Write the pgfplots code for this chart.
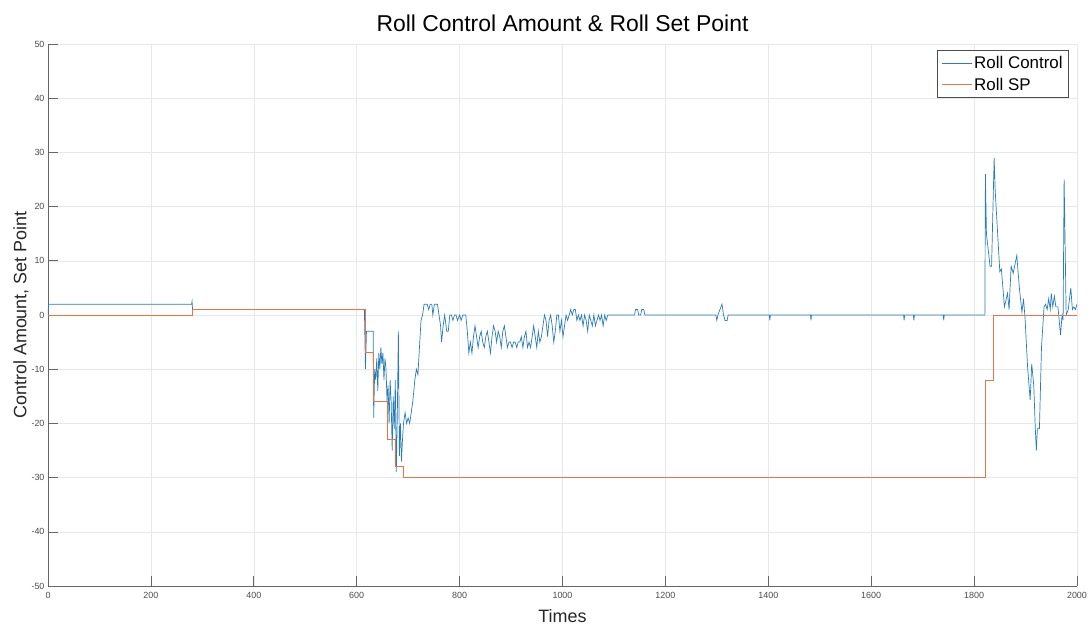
\documentclass[border=0pt]{standalone}
\usepackage{pgfplots}
\pgfplotsset{compat=1.18}
\usepackage{fontspec}
\setmainfont{Liberation Sans}
\definecolor{mblue}{RGB}{40,125,185}
\definecolor{morange}{RGB}{232,115,70}
\begin{document}
\begin{tikzpicture}
\path[use as bounding box] (-48bp,-39bp) rectangle (1040bp,586bp);
\begin{axis}[
  at={(0,0)}, anchor=south west,
  scale only axis, width=1029bp, height=542bp,
  xmin=0, xmax=2000, ymin=-50, ymax=50,
  xtick={0,200,...,2000}, ytick={-50,-40,...,50},
  axis x line*=bottom, axis y line*=left,
  axis line style={draw=black!60, line width=0.6pt},
  tick align=inside, major tick length=10bp,
  tick style={draw=black!60, line width=0.6pt},
  grid=major, major grid style={draw=black!9, line width=0.5pt},
  ticklabel style={font=\fontsize{9}{10}\selectfont, text=black!70},
  xticklabel style={yshift=-3bp},
  /pgf/number format/assume math mode=true,
  /pgf/number format/1000 sep={},
  xlabel={Times}, ylabel={Control Amount, Set Point},
  label style={font=\fontsize{18}{20}\selectfont, text=black!85},
  xlabel style={yshift=-4bp}, ylabel style={yshift=-4bp},
  title={Roll Control Amount \& Roll Set Point},
  title style={font=\fontsize{23}{26}\selectfont, yshift=3bp},
  legend style={at={(1,1)}, anchor=north east, xshift=-8bp, yshift=-6bp,
    draw=black!70, line width=0.6pt, font=\fontsize{17}{19}\selectfont,
    row sep=4pt, inner xsep=4pt, inner ysep=4pt},
  legend cell align=left,
  legend image code/.code={\draw[#1, line width=0.8pt] (0bp,0bp) -- (30bp,0bp);},
]
\addplot[mblue, line width=0.7pt] coordinates {
(0,0)(1,2)(279,2)(280,2.5)(281,1)(615,1)(617,-10)(619,-3)(632,-3)(633,-19)(635,-10)(637,-12)(639,-8)(641,-14)(643,-7)(645,-10)(647,-6)(649,-9)(651,-7)(653,-12)(655,-8)(657,-10)(659,-16)(661,-13)(663,-20)(665,-12)(667,-16)(669,-25)(671,-15)(673,-21)(675,-12)(677,-29)(679,-18)(681,-3)(683,-26)(685,-20)(687,-27)(689,-23)(691,-20)(694,-18)(697,-20)(700,-19)(703,-20)(706,-18)(709,-16)(713,-12)(716,-10)(719,-11)(722,-6)(725,-1)(728,0)(731,2)(737,2)(740,1)(743,2)(746,2)(748,0)(751,2)(757,2)(763,-2)(765,-5)(768,-2)(771,0)(775,-3)(778,-3)(781,0)(784,0)(787,-1)(790,0)(793,0)(796,-1)(800,0)(803,-1)(806,0)(812,0)(815,-3)(818,-7)(821,-5)(824,-7)(827,-4)(830,-2)(833,-4)(836,-6)(839,-4)(842,-3)(845,-5)(848,-6)(851,-4)(854,-3)(857,-5)(860,-7)(863,-4)(866,-2)(869,-3)(872,-5)(875,-3)(878,-4)(881,-6)(884,-3)(887,-2)(890,-4)(893,-6)(896,-5)(899,-5)(902,-6)(905,-5)(908,-5)(911,-6)(914,-5)(917,-5)(920,-4)(923,-6)(926,-4)(929,-3)(932,-6)(935,-5)(938,-6)(941,-4)(944,-2)(947,-4)(950,-6)(953,-3)(956,-5)(959,-4)(962,-2)(965,0)(968,-1)(971,-4)(974,-1)(977,0)(980,-2)(983,-5)(986,-3)(989,0)(992,0)(995,-3)(998,-1)(1001,-4)(1004,-2)(1007,0)(1010,-1)(1013,0)(1016,1)(1019,0)(1022,1)(1025,1)(1028,-1)(1031,0)(1034,-1)(1037,0)(1040,-2)(1043,0)(1046,-1)(1049,-3)(1052,0)(1055,-1)(1058,-2)(1061,0)(1064,-2)(1067,-1)(1070,0)(1073,-1)(1076,0)(1079,-2)(1082,0)(1085,-1)(1088,0)
(1140,0)(1142,1)(1146,1)(1148,0)(1152,0)(1154,1)(1158,1)(1160,0)(1298,0)(1300,-1)(1302,0)(1306,1)(1310,2)(1313,0)(1316,-1)(1320,-1)(1322,0)(1402,0)(1403,-1)(1404,0)(1482,0)(1483,-1)(1484,0)(1663,0)(1664,-1)(1665,0)(1682,0)(1683,-1)(1684,0)(1740,0)(1741,-1)(1742,0)
(1821,0)(1822,26)(1824,15)(1831,9)(1834,9)(1839,29)(1841,23)(1850,8)(1853,8.5)(1859,1.5)(1865,4)(1868,1)(1872,9)(1876,7.7)(1883,11)(1888,5)(1893,0.5)(1896,3)(1899,-0.5)(1904,-9.6)(1909,-15.7)(1912,-9)(1916,-13)(1919,-21)(1921,-25)(1923,-21)(1927,-21)(1931,-6)(1936,1.5)(1939,2)(1942,1)(1945,3)(1948,1)(1950,4)(1953,1.5)(1956,3.5)(1959,1.5)(1963,1.5)(1968,-3.7)(1971,0)(1973,-1)(1975,25)(1979,0)(1983,1)(1988,5)(1991,1)(1994,1.5)(1997,1)(2000,2)
};
\addlegendentry{Roll Control}
\addplot[morange, line width=0.9pt] coordinates {
(0,0)(280,0)(280,1)(617,1)(617,-7)(632,-7)(632,-16)(659,-16)(659,-23)(675,-23)(675,-28)(691,-28)(691,-30)(1822,-30)(1822,-12)(1838,-12)(1838,0)(2000,0)
};
\addlegendentry{Roll SP}
\end{axis}
\end{tikzpicture}
\end{document}
